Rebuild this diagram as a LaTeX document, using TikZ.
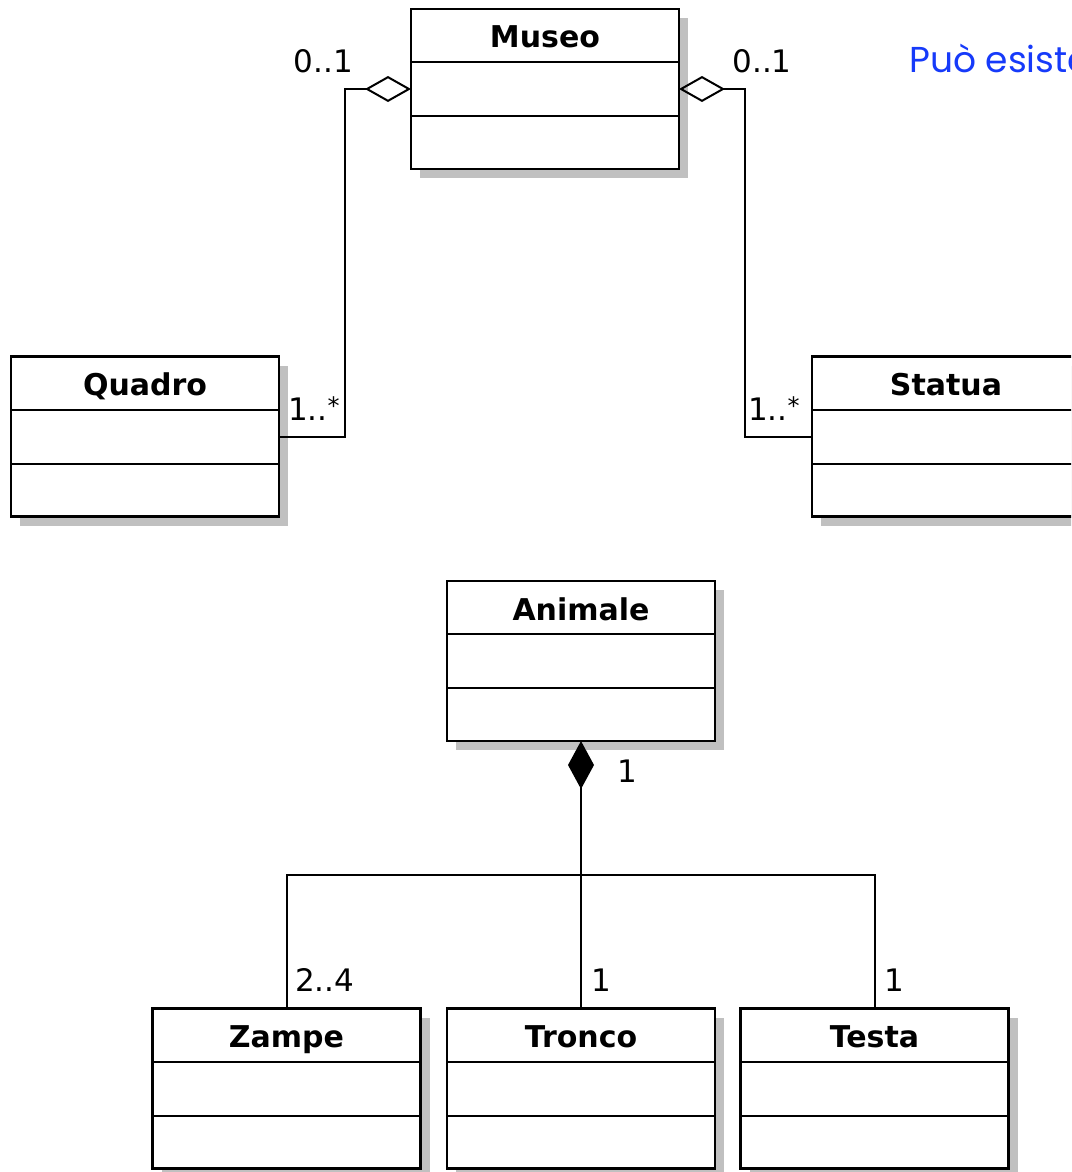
\documentclass[tikz,border=0pt]{standalone}
\usepackage{fontspec}
\setmainfont{DejaVu Sans}
\newfontfamily\notefont{Poppins}
\usetikzlibrary{arrows.meta,shadows}
\definecolor{noteblue}{RGB}{22,58,250}
\definecolor{shadowgray}{RGB}{192,192,192}
\newcommand{\manystar}{{\fontsize{24}{24}\selectfont\raisebox{6pt}{*}}}
\tikzset{
  umlclass/.style={draw, line width=2.6pt, fill=white,
    minimum width=268pt, minimum height=160pt, inner sep=0pt, outer sep=0pt,
    drop shadow={shadow xshift=9pt, shadow yshift=-9pt, fill=shadowgray, opacity=1},
    path picture={
      \draw[line width=2pt]
        ([yshift=-53pt]path picture bounding box.north west) -- ([yshift=-53pt]path picture bounding box.north east)
        ([yshift=-107pt]path picture bounding box.north west) -- ([yshift=-107pt]path picture bounding box.north east);
    }},
  classname/.style={anchor=base, inner sep=0pt, yshift=-39pt,
    font=\fontsize{30}{30}\selectfont\bfseries},
  mult/.style={inner sep=0pt, font=\fontsize{31}{31}\selectfont},
  link/.style={line width=2pt},
  aggregation/.style={link, {Diamond[open, length=46pt, width=26pt]}-},
  composition/.style={link, {Diamond[length=48pt, width=26pt]}-},
  note/.style={inner sep=0pt, anchor=base west, text=noteblue,
    font=\notefont\fontsize{36}{36}\selectfont},
}
\begin{document}
\begin{tikzpicture}[x=1pt, y=-1pt]
  \path[use as bounding box] (0,0) rectangle (1071,1172);
  \fill[white] (0,0) rectangle (1071,1172);
  \clip (0,0) rectangle (1071,1172);

  % aggregation: Museo with Quadro and Statua
  \node[umlclass] (museo) at (545,89) {};
  \node[classname] (museo-name) at (museo.north) {Museo};
  \node[umlclass] (quadro) at (145,436.5) {};
  \node[classname] (quadro-name) at (quadro.north) {Quadro};
  \node[umlclass] (statua) at (946,436.5) {};
  \node[classname] (statua-name) at (statua.north) {Statua};

  \draw[aggregation] (museo.west) -- ++(-66,0) |- (quadro.east);
  \draw[aggregation] (museo.east) -- ++(66,0) |- (statua.west);

  \node[mult, anchor=base] (m-left) at (323.5,73) {0..1};
  \node[mult, anchor=base] (m-right) at (762,73) {0..1};
  \node[mult, anchor=base west] (q-mult) at (288,420) {1..\manystar};
  \node[mult, anchor=base west] (s-mult) at (748,420) {1..\manystar};

  \node[note] (remark) at (909,72) {Può esistere};

  % composition: Animale with Zampe, Tronco and Testa
  \node[umlclass] (animale) at (581,661) {};
  \node[classname] (animale-name) at (animale.north) {Animale};
  \node[umlclass] (zampe) at (286.5,1088.5) {};
  \node[classname] (zampe-name) at (zampe.north) {Zampe};
  \node[umlclass] (tronco) at (581,1088.5) {};
  \node[classname] (tronco-name) at (tronco.north) {Tronco};
  \node[umlclass] (testa) at (874.5,1088.5) {};
  \node[classname] (testa-name) at (testa.north) {Testa};

  \coordinate (bus) at (animale.south |- 0,875);
  \draw[composition] (animale.south) -- (tronco.north);
  \draw[link] (zampe.north) |- (bus) -| (testa.north);

  \node[mult, anchor=base west] (a-mult) at (617,782) {1};
  \node[mult, anchor=base west] (z-mult) at (295,991) {2..4};
  \node[mult, anchor=base west] (tr-mult) at (591,991) {1};
  \node[mult, anchor=base west] (te-mult) at (884,991) {1};
\end{tikzpicture}
\end{document}
